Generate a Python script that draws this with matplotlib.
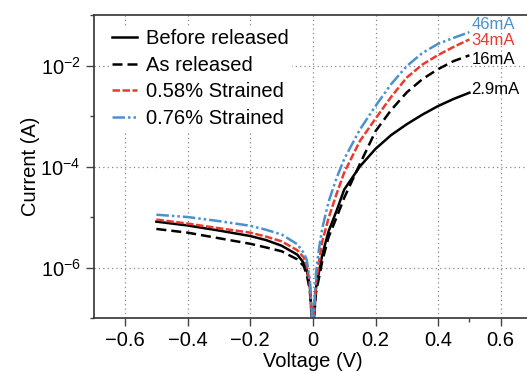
import numpy as np
import matplotlib
matplotlib.use('Agg')
import matplotlib.pyplot as plt

# voltage points
voltage = [-0.5, -0.4, -0.3, -0.2, -0.15, -0.1, -0.05, -0.03, -0.02, -0.01, 0.0,
           0.01, 0.02, 0.03, 0.05, 0.075, 0.1, 0.15, 0.2, 0.25, 0.3, 0.35, 0.4, 0.45, 0.5]

# |current| in A
before_released = [8.1e-6, 6.8e-6, 5.4e-6, 4.2e-6, 3.5e-6, 2.7e-6, 1.8e-6, 1.25e-6, 9.2e-7, 4.4e-7, 5e-8,
                   4e-7, 8.5e-7, 1.8e-6, 5.2e-6, 1.3e-5, 3.5e-5, 1.0e-4, 2.24e-4, 4.2e-4, 6.9e-4,
                   1.07e-3, 1.58e-3, 2.19e-3, 2.9e-3]
as_released = [5.8e-6, 4.9e-6, 3.8e-6, 2.95e-6, 2.5e-6, 2.1e-6, 1.45e-6, 1.08e-6, 7.4e-7, 3.6e-7, 5e-8,
               3.2e-7, 6.5e-7, 1.35e-6, 4e-6, 9.6e-6, 2.4e-5, 1.12e-4, 5.0e-4, 1.32e-3, 2.95e-3,
               5.4e-3, 8.5e-3, 1.23e-2, 1.6e-2]
strained_058 = [8.9e-6, 7.4e-6, 6.0e-6, 4.9e-6, 4.1e-6, 3.3e-6, 2.2e-6, 1.6e-6, 1.1e-6, 5e-7, 5e-8,
                5e-7, 1.35e-6, 3.3e-6, 9.5e-6, 2.8e-5, 7.6e-5, 3.2e-4, 8.9e-4, 2.4e-3, 5.8e-3,
                1.05e-2, 1.62e-2, 2.35e-2, 3.3e-2]
strained_076 = [1.11e-5, 1.0e-5, 8.3e-6, 6.7e-6, 5.6e-6, 4.5e-6, 2.9e-6, 1.97e-6, 1.45e-6, 5.9e-7, 5e-8,
                8e-7, 2.5e-6, 6e-6, 2e-5, 5.8e-5, 1.41e-4, 5.4e-4, 1.58e-3, 4.3e-3, 9.8e-3,
                1.78e-2, 2.7e-2, 3.55e-2, 4.6e-2]

end_labels = ['2.9mA', '16mA', '34mA', '46mA']

blue = '#4a92cc'
red = '#ea3a2e'

plt.rcParams['font.family'] = ['Liberation Sans', 'DejaVu Sans']
plt.rcParams['font.size'] = 14.5
plt.rcParams['mathtext.fontset'] = 'custom'
plt.rcParams['mathtext.rm'] = 'Liberation Sans'
plt.rcParams['mathtext.it'] = 'Liberation Sans:italic'
plt.rcParams['mathtext.bf'] = 'Liberation Sans:bold'

fig = plt.figure(figsize=(5.27, 3.73), dpi=100)
ax = fig.add_axes([0.178, 0.1475, 0.8315, 0.812])

ax.plot(voltage, before_released, color='k', linestyle='-', linewidth=1.8, label='Before released')
ax.plot(voltage, as_released, color='k', linestyle=(0, (4, 2)), linewidth=1.8, label='As released')
ax.plot(voltage, strained_058, color=red, linestyle=(0, (3, 1)), linewidth=1.8, label='0.58% Strained')
ax.plot(voltage, strained_076, color=blue, linestyle=(0, (5, 1.2, 1, 1.2, 1, 1.2)), linewidth=1.8,
        label='0.76% Strained')

ax.set_yscale('log')
ax.set_xlim(-0.7, 0.7)
ax.set_ylim(1e-7, 1e-1)
ax.set_xticks([-0.6, -0.4, -0.2, 0, 0.2, 0.4, 0.6])
ax.set_xticklabels(['\u22120.6', '\u22120.4', '\u22120.2', '0', '0.2', '0.4', '0.6'])
ax.set_xticks([0.5], minor=True)
ax.set_yticks([1e-6, 1e-4, 1e-2])
ax.set_yticklabels([r'$10^{-6}$', r'$10^{-4}$', r'$10^{-2}$'])
ax.set_yticks([1e-7, 1e-5, 1e-3, 1e-1], minor=True)
ax.set_yticklabels([], minor=True)
ax.tick_params(which='major', direction='out', length=6, width=1, color='#444444')
ax.tick_params(which='minor', direction='out', length=3, width=1, color='#444444')
for s in ax.spines.values():
    s.set_color('#333333')
    s.set_linewidth(1.2)

ax.grid(True, which='major', color='#888888', linestyle=(0, (1, 2.5)), linewidth=0.9)

ax.set_xlabel('Voltage (V)', labelpad=1.5)
ax.set_ylabel('Current (A)', labelpad=0)

series = [before_released, as_released, strained_058, strained_076]
colors = ['k', 'k', red, blue]
offsets = [2, -3, -0.5, 5.5]
for ys, c, lab, dy in zip(series, colors, end_labels, offsets):
    ax.annotate(lab, (voltage[-1], ys[-1]), xytext=(1.5, dy), textcoords='offset points',
                color=c, fontsize=12, ha='left', va='center')

leg = ax.legend(loc='upper left', frameon=True, framealpha=1, edgecolor='none',
                bbox_to_anchor=(0.012, 0.997), handlelength=1.25, handletextpad=0.45,
                labelspacing=0.38, borderpad=0.15, fancybox=False)

fig.savefig('out.png', dpi=100)
